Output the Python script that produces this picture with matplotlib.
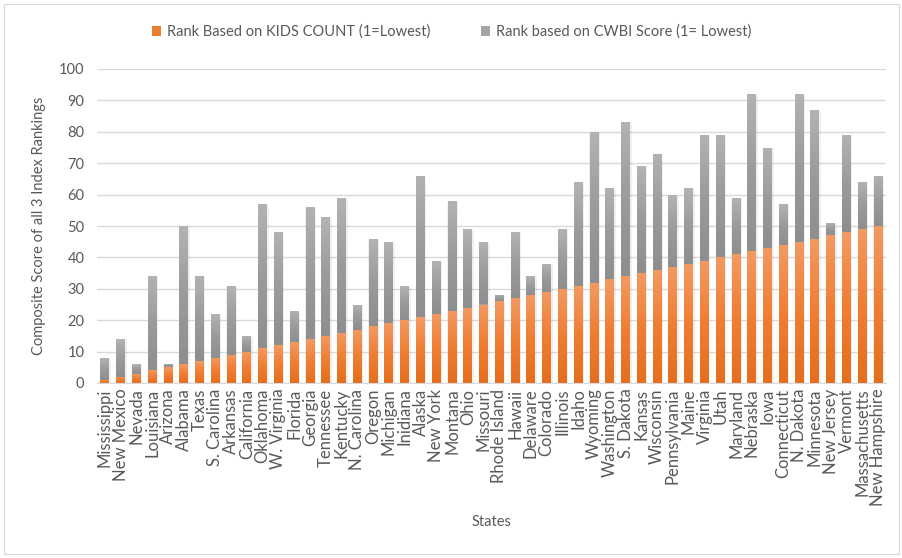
import numpy as np
import matplotlib
matplotlib.use("Agg")
import matplotlib.pyplot as plt
from matplotlib.patches import Rectangle
from matplotlib.colors import LinearSegmentedColormap

plt.rcParams['font.family'] = ['Lato', 'DejaVu Sans']

states = ["Mississippi", "New Mexico", "Nevada", "Louisiana", "Arizona", "Alabama", "Texas",
          "S. Carolina", "Arkansas", "California", "Oklahoma", "W. Virginia", "Florida", "Georgia",
          "Tennessee", "Kentucky", "N. Carolina", "Oregon", "Michigan", "Inidiana", "Alaska",
          "New York", "Montana", "Ohio", "Missouri", "Rhode Island", "Hawaii", "Delaware",
          "Colorado", "Illinois", "Idaho", "Wyoming", "Washington", "S. Dakota", "Kansas",
          "Wisconsin", "Pennsylvania", "Maine", "Virginia", "Utah", "Maryland", "Nebraska",
          "Iowa", "Connecticut", "N. Dakota", "Minnesota", "New Jersey", "Vermont",
          "Massachusetts", "New Hampshire"]

kids_count_rank = [1, 2, 3, 4, 5, 6, 7, 8, 9, 10, 11, 12, 13, 14, 15, 16, 17, 18, 19, 20,
                   21, 22, 23, 24, 25, 26, 27, 28, 29, 30, 31, 32, 33, 34, 35, 36, 37, 38, 39, 40,
                   41, 42, 43, 44, 45, 46, 47, 48, 49, 50]

cwbi_rank = [7, 12, 3, 30, 1, 44, 27, 14, 22, 5, 46, 36, 10, 42, 38, 43, 8, 28, 26, 11,
             45, 17, 35, 25, 20, 2, 21, 6, 9, 19, 33, 48, 29, 49, 34, 37, 23, 24, 40, 39,
             18, 50, 32, 13, 47, 41, 4, 31, 15, 16]

label_kids = "Rank Based on KIDS COUNT (1=Lowest)"
label_cwbi = "Rank based on CWBI Score (1= Lowest)"

W, H = 903, 558
fig = plt.figure(figsize=(W / 100, H / 100), dpi=100)
fig.patch.set_facecolor("white")
fig.add_artist(Rectangle((4 / W, 4 / H), 1 - 8 / W, 1 - 8 / H, transform=fig.transFigure,
                         fill=False, edgecolor="#D9D9D9", linewidth=0.8))

ax = fig.add_axes([97 / W, 1 - 383 / H, (886 - 97) / W, (383 - 69) / H])

x = np.arange(len(states))
kids = np.array(kids_count_rank)
cwbi = np.array(cwbi_rank)
width = 0.57

orange_cmap = LinearSegmentedColormap.from_list("o", ["#E56E1E", "#EF7E33", "#F39A62"])
gray_cmap = LinearSegmentedColormap.from_list("g", ["#8E8E8E", "#9B9B9B", "#B3B3B3"])
grad = np.linspace(0, 1, 256).reshape(-1, 1)

# faint drop shadow behind each stack
ax.bar(x + 0.04, kids + cwbi, width=width + 0.1, bottom=-0.3, color="#000000",
       alpha=0.06, linewidth=0, zorder=1.5)

b1 = ax.bar(x, kids, width=width, color="#ED7D31", linewidth=0, zorder=2, label=label_kids)
b2 = ax.bar(x, cwbi, width=width, bottom=kids, color="#A5A5A5", linewidth=0, zorder=2,
            label=label_cwbi)

for bars, cmap in ((b1, orange_cmap), (b2, gray_cmap)):
    for r in bars:
        x0, y0 = r.get_x(), r.get_y()
        im = ax.imshow(grad, cmap=cmap, aspect="auto", origin="lower",
                       extent=[x0, x0 + r.get_width(), y0, y0 + r.get_height()], zorder=2.1)
        im.set_clip_path(r)

ax.set_xlim(-0.5, len(states) - 0.5)
ax.set_ylim(0, 100)
ax.set_yticks(np.arange(0, 101, 10))
ax.set_xticks(x)
ax.set_xticklabels(states, rotation=90, fontsize=12, color="#595959")
ax.tick_params(axis="y", labelsize=10.5, colors="#595959", length=0, pad=9)
ax.tick_params(axis="x", length=0, pad=4)
ax.grid(axis="y", color="#D9D9D9", linewidth=1, zorder=0)
ax.set_axisbelow(True)
for s in ("top", "right", "left"):
    ax.spines[s].set_visible(False)
ax.spines["bottom"].set_color("#D9D9D9")

ax.set_ylabel("Composite Score of all 3 Index Rankings", fontsize=10.5, color="#595959", labelpad=9)
ax.set_xlabel("States", fontsize=10.5, color="#595959", labelpad=6)

fig.legend(handles=[b1, b2], labels=[label_kids, label_cwbi], loc="center",
           bbox_to_anchor=(0.5, 1 - 32 / H), ncol=2, frameon=False, fontsize=10.5,
           labelcolor="#595959", handlelength=0.6, handleheight=0.6, handletextpad=0.4,
           columnspacing=3.5)

fig.savefig("out.png", dpi=100, facecolor="white")
